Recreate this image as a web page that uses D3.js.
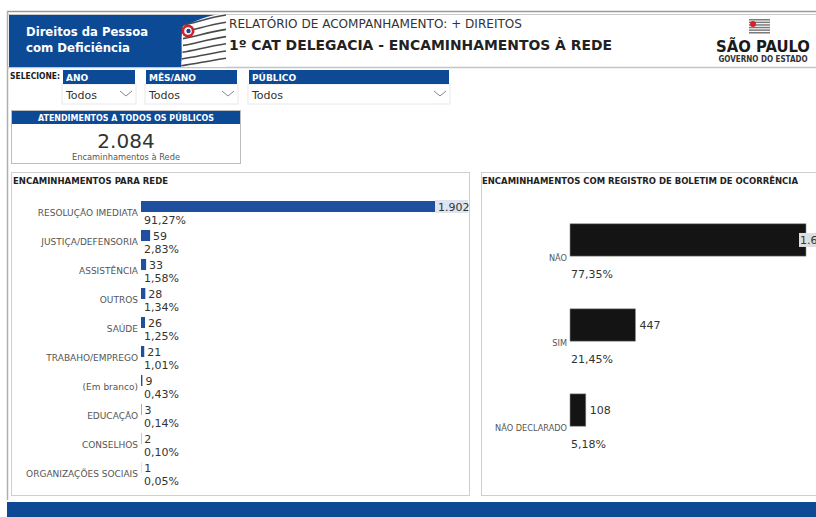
<!DOCTYPE html>
<html>
<head>
<meta charset="utf-8">
<script src="https://cdn.jsdelivr.net/npm/d3@7"></script>
<style>
  html, body { margin: 0; padding: 0; background: #fff; overflow: hidden; }
  svg { display: block; }
</style>
</head>
<body>
<svg id="painel" width="816" height="517"></svg>
<script>
// ---- dados ----
const redeCategorias = ["RESOLUÇÃO IMEDIATA", "JUSTIÇA/DEFENSORIA", "ASSISTÊNCIA", "OUTROS", "SAÚDE",
  "TRABAHO/EMPREGO", "(Em branco)", "EDUCAÇÃO", "CONSELHOS", "ORGANIZAÇÕES SOCIAIS"];
const redeValores = [1902, 59, 33, 28, 26, 21, 9, 3, 2, 1];
const boCategorias = ["NÃO", "SIM", "NÃO DECLARADO"];
const boValores = [1612, 447, 108];
const totalAtendimentos = 2084;
const filtroNomes = ["ANO", "MÊS/ANO", "PÚBLICO"];
const filtroSelecao = ["Todos", "Todos", "Todos"];

// ---- formatação pt-BR ----
const ptBR = d3.formatLocale({ decimal: ",", thousands: ".", grouping: [3], currency: ["R$", ""] });
const fmtNum = ptBR.format(",");
const fmtPct = v => ptBR.format(",.2f")(v) + "%";

const AZUL = "#0d4a96";
const AZUL_BARRA = "#1f4f9e";
const FONTE = "'DejaVu Sans', Verdana, sans-serif";

const svg = d3.select("#painel").style("font-family", FONTE);
svg.append("rect").attr("width", 816).attr("height", 517).attr("fill", "#fff");

// ---- moldura da página ----
svg.append("line").attr("x1", 7).attr("x2", 816).attr("y1", 11.5).attr("y2", 11.5).attr("stroke", "#9a9a9a").attr("stroke-width", 1.5);
svg.append("line").attr("x1", 7).attr("x2", 816).attr("y1", 14.5).attr("y2", 14.5).attr("stroke", "#c8c8c8");
svg.append("line").attr("x1", 7.5).attr("x2", 7.5).attr("y1", 11).attr("y2", 500).attr("stroke", "#b0b0b0").attr("stroke-width", 1.5);
svg.append("line").attr("x1", 7).attr("x2", 816).attr("y1", 67.5).attr("y2", 67.5).attr("stroke", "#c4c4c4").attr("stroke-width", 1.5);

// ---- cabeçalho ----
svg.append("rect").attr("x", 9).attr("y", 15).attr("width", 216).attr("height", 52).attr("fill", AZUL);
const ht = svg.append("g").attr("fill", "#fff").attr("font-weight", "bold").attr("font-size", 12.5);
ht.append("text").attr("x", 26).attr("y", 36).attr("textLength", 122).attr("lengthAdjust", "spacingAndGlyphs").text("Direitos da Pessoa");
ht.append("text").attr("x", 26).attr("y", 52).attr("textLength", 104).attr("lengthAdjust", "spacingAndGlyphs").text("com Deficiência");

// bandeira ondulada
const bandeira = svg.append("g");
bandeira.append("path")
  .attr("d", "M183,26 C195,22 208,14 226,14 L226,67 L181,67 C183,52 180,40 183,26 Z")
  .attr("fill", "#fff");
for (let i = 0; i < 13; i++) {
  const y0 = 25 + i * 3.4, y1 = 15 + i * 3.6;
  bandeira.append("path")
    .attr("d", `M${183 - (i > 6 ? (i - 6) * 0.3 : 0)},${y0} C196,${y0 - 2} 206,${y1 + 3} 226,${y1}`)
    .attr("fill", "none").attr("stroke", i % 2 ? "#fff" : "#4a4a4a").attr("stroke-width", 1.6);
}
bandeira.append("circle").attr("cx", 188).attr("cy", 31).attr("r", 6.5).attr("fill", "#d2232a");
bandeira.append("circle").attr("cx", 188).attr("cy", 31).attr("r", 3.8).attr("fill", "#fff");
bandeira.append("circle").attr("cx", 188.5).attr("cy", 31).attr("r", 2.2).attr("fill", "#1d3f8f");

svg.append("text").attr("x", 229).attr("y", 28).attr("font-size", 12.5).attr("fill", "#333")
  .attr("textLength", 293).attr("lengthAdjust", "spacingAndGlyphs")
  .text("RELATÓRIO DE ACOMPANHAMENTO: + DIREITOS");
svg.append("text").attr("x", 229).attr("y", 50).attr("font-size", 14.5).attr("font-weight", "bold").attr("fill", "#222")
  .attr("textLength", 383).attr("lengthAdjust", "spacingAndGlyphs")
  .text("1º CAT DELEGACIA - ENCAMINHAMENTOS À REDE");

// logotipo do governo
const logo = svg.append("g");
for (let i = 0; i < 6; i++) {
  logo.append("rect").attr("x", 749).attr("y", 19 + i * 2.6).attr("width", 21).attr("height", 1.5)
    .attr("fill", "#7a7a7a");
}
logo.append("circle").attr("cx", 753).attr("cy", 24).attr("r", 3).attr("fill", "#d2232a");
logo.append("text").attr("x", 763).attr("y", 51.5).attr("text-anchor", "middle")
  .attr("font-size", 16.5).attr("font-weight", "bold")
  .attr("font-family", "'Liberation Sans Narrow', 'DejaVu Sans Condensed', sans-serif").attr("fill", "#1a1a1a")
  .text("SÃO PAULO");
logo.append("text").attr("x", 763).attr("y", 61.5).attr("text-anchor", "middle")
  .attr("font-size", 8).attr("font-weight", "bold")
  .attr("font-family", "'Liberation Sans Narrow', 'DejaVu Sans Condensed', sans-serif").attr("fill", "#333")
  .text("GOVERNO DO ESTADO");

// ---- filtros ----
svg.append("text").attr("x", 10).attr("y", 79).attr("font-size", 8).attr("font-weight", "bold").attr("fill", "#1a1a1a")
  .attr("textLength", 50).attr("lengthAdjust", "spacingAndGlyphs").text("SELECIONE:");
const filtroX = [63, 146, 249];
const filtroW = [72, 91, 200];
filtroNomes.forEach((nome, i) => {
  const g = svg.append("g").attr("transform", `translate(${filtroX[i]},70)`);
  g.append("rect").attr("x", -1).attr("y", 14).attr("width", filtroW[i] + 2).attr("height", 20)
    .attr("fill", "#fff").attr("stroke", "#e8e8e8");
  g.append("rect").attr("width", filtroW[i]).attr("height", 14).attr("fill", AZUL);
  g.append("text").attr("x", 3).attr("y", 11).attr("font-size", 9).attr("font-weight", "bold").attr("fill", "#fff")
    .text(nome);
  g.append("text").attr("x", 3).attr("y", 29).attr("font-size", 11).attr("fill", "#333").text(filtroSelecao[i]);
  const cx = filtroW[i] - 9;
  g.append("path").attr("d", `M${cx - 6},21 L${cx},26 L${cx + 6},21`).attr("fill", "none")
    .attr("stroke", "#888").attr("stroke-width", 1);
});

// ---- cartão de total ----
const kpi = svg.append("g");
kpi.append("rect").attr("x", 11.5).attr("y", 110.5).attr("width", 229).attr("height", 53).attr("fill", "#fff").attr("stroke", "#bdbdbd");
kpi.append("rect").attr("x", 12).attr("y", 111).attr("width", 228).attr("height", 13).attr("fill", AZUL);
kpi.append("text").attr("x", 126).attr("y", 121).attr("text-anchor", "middle").attr("font-size", 8)
  .attr("font-weight", "bold").attr("fill", "#fff").attr("textLength", 176).attr("lengthAdjust", "spacingAndGlyphs")
  .text("ATENDIMENTOS A TODOS OS PÚBLICOS");
kpi.append("text").attr("x", 126).attr("y", 148).attr("text-anchor", "middle").attr("font-size", 20)
  .attr("fill", "#333").text(fmtNum(totalAtendimentos));
kpi.append("text").attr("x", 126).attr("y", 160).attr("text-anchor", "middle").attr("font-size", 8)
  .attr("fill", "#555").attr("textLength", 108).attr("lengthAdjust", "spacingAndGlyphs").text("Encaminhamentos à Rede");

// ---- painéis ----
svg.append("rect").attr("x", 11.5).attr("y", 172.5).attr("width", 458).attr("height", 323).attr("fill", "none").attr("stroke", "#cfcfcf");
svg.append("rect").attr("x", 481.5).attr("y", 172.5).attr("width", 340).attr("height", 323).attr("fill", "none").attr("stroke", "#cfcfcf");
svg.append("text").attr("x", 13).attr("y", 184).attr("font-size", 8).attr("font-weight", "bold").attr("fill", "#222")
  .attr("textLength", 155).attr("lengthAdjust", "spacingAndGlyphs").text("ENCAMINHAMENTOS PARA REDE");
svg.append("text").attr("x", 482).attr("y", 184).attr("font-size", 8).attr("font-weight", "bold").attr("fill", "#222")
  .attr("textLength", 316).attr("lengthAdjust", "spacingAndGlyphs").text("ENCAMINHAMENTOS COM REGISTRO DE BOLETIM DE OCORRÊNCIA");

// ---- gráfico: encaminhamentos para rede ----
const xRede = d3.scaleLinear().domain([0, d3.max(redeValores)]).range([141, 435]);
const yRede = d3.scaleBand().domain(redeCategorias).range([192, 482]).paddingInner(0.62).paddingOuter(0.31);
const redeDados = redeCategorias.map((c, i) => ({ c, v: redeValores[i] }));

const gr = svg.append("g");
gr.selectAll("rect.barra").data(redeDados).join("rect").attr("class", "barra")
  .attr("x", xRede(0)).attr("y", d => yRede(d.c))
  .attr("width", d => xRede(d.v) - xRede(0)).attr("height", yRede.bandwidth())
  .attr("fill", AZUL_BARRA);
gr.selectAll("text.cat").data(redeDados).join("text").attr("class", "cat")
  .attr("x", 138).attr("y", d => yRede(d.c) + yRede.bandwidth() + 4)
  .attr("text-anchor", "end").attr("font-size", 9).attr("fill", "#555")
  .text(d => d.c);
// destaque do maior valor
const maior = redeDados[0];
gr.append("rect").attr("x", xRede(maior.v)).attr("y", yRede(maior.c) - 1)
  .attr("width", 33).attr("height", yRede.bandwidth() + 2).attr("fill", "#dfe4ee");
gr.selectAll("text.val").data(redeDados).join("text").attr("class", "val")
  .attr("x", d => xRede(d.v) + 3).attr("y", d => yRede(d.c) + yRede.bandwidth() / 2 + 4)
  .attr("font-size", 11).attr("fill", "#333").text(d => fmtNum(d.v));
gr.selectAll("text.pct").data(redeDados).join("text").attr("class", "pct")
  .attr("x", 144).attr("y", d => yRede(d.c) + yRede.bandwidth() / 2 + 17.5)
  .attr("font-size", 11).attr("fill", "#333").text(d => fmtPct(d.v / totalAtendimentos * 100));

// ---- gráfico: boletim de ocorrência ----
const xBo = d3.scaleLinear().domain([0, d3.max(boValores)]).range([570, 806]);
const yBo = d3.scaleBand().domain(boCategorias).range([180, 470]).paddingInner(0.62).paddingOuter(0.515);
const boDados = boCategorias.map((c, i) => ({ c, v: boValores[i] }));

const gb = svg.append("g");
gb.selectAll("rect.barra").data(boDados).join("rect").attr("class", "barra")
  .attr("x", xBo(0)).attr("y", d => yBo(d.c))
  .attr("width", d => xBo(d.v) - xBo(0)).attr("height", yBo.bandwidth())
  .attr("fill", "#141414").attr("stroke", "#8a8a8a").attr("stroke-width", 0.6);
gb.selectAll("text.cat").data(boDados).join("text").attr("class", "cat")
  .attr("x", 567).attr("y", d => yBo(d.c) + yBo.bandwidth() + 5)
  .attr("text-anchor", "end").attr("font-size", 8.2).attr("fill", "#555").text(d => d.c);
gb.selectAll("text.val").data(boDados).join("text").attr("class", "val")
  .each(function (d) {
    const dentro = xBo(d.v) > 780;
    const x = dentro ? xBo(d.v) - 6 : xBo(d.v) + 4;
    if (dentro) {
      gb.insert("rect", "text.val").attr("x", x - 1).attr("y", yBo(d.c) + yBo.bandwidth() / 2 - 7)
        .attr("width", 40).attr("height", 14).attr("fill", "#dedede");
    }
    d3.select(this).attr("x", x);
  })
  .attr("y", d => yBo(d.c) + yBo.bandwidth() / 2 + 4)
  .attr("font-size", 11).attr("fill", "#333").text(d => fmtNum(d.v));
gb.selectAll("text.pct").data(boDados).join("text").attr("class", "pct")
  .attr("x", 571).attr("y", d => yBo(d.c) + yBo.bandwidth() + 22)
  .attr("font-size", 11).attr("fill", "#333").text(d => fmtPct(d.v / totalAtendimentos * 100));

// ---- rodapé ----
svg.append("rect").attr("x", 7).attr("y", 502).attr("width", 809).attr("height", 15).attr("fill", AZUL);
</script>
</body>
</html>
